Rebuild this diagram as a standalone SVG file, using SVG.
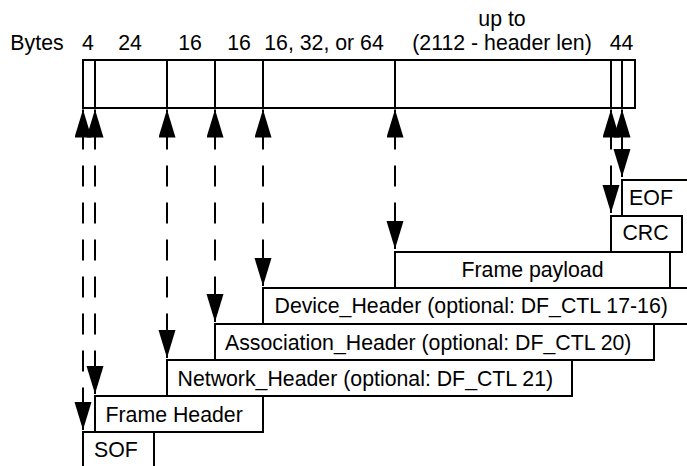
<svg xmlns="http://www.w3.org/2000/svg" width="687" height="466" viewBox="0 0 687 466">
  <style>
    text { font-family: "Liberation Sans", Arial, Helvetica, sans-serif; font-size: 21.3px; fill: #000; }
    .mid { text-anchor: middle; }
    .box { fill: none; stroke: #000; stroke-width: 2; }
    .conn { fill: none; stroke: #000; stroke-width: 2; stroke-dasharray: 21 16; stroke-dashoffset: 18;
            marker-start: url(#ah); marker-end: url(#ah); }
  </style>
  <defs>
    <marker id="ah" markerUnits="userSpaceOnUse" viewBox="0 0 30 20" markerWidth="30" markerHeight="20"
            refX="28" refY="8.5" orient="auto-start-reverse">
      <path d="M0,0 L28,8.5 L0,17 Z" fill="#000"/>
    </marker>
  </defs>

  <rect width="687" height="466" fill="#fff"/>

  <!-- byte counts above the frame -->
  <g id="byte-labels">
    <text x="37" y="50" class="mid">Bytes</text>
    <text x="88" y="50" class="mid">4</text>
    <text x="130" y="50" class="mid">24</text>
    <text x="190" y="50" class="mid">16</text>
    <text x="239" y="50" class="mid">16</text>
    <text x="324" y="50" class="mid">16, 32, or 64</text>
    <text x="502" y="26" class="mid">up to</text>
    <text x="502" y="50" class="mid">(2112 - header len)</text>
    <text x="621.5" y="50" class="mid">44</text>
  </g>

  <!-- the frame bar with its field dividers -->
  <g id="frame-bar">
    <rect class="box" x="83" y="60" width="552" height="48"/>
    <path class="box" d="M95,60V108 M167,60V108 M215,60V108 M263,60V108 M395,60V108 M611,60V108 M622,60V108"/>
  </g>

  <!-- dashed double-headed connectors from each field to its block -->
  <g id="connectors">
    <line class="conn" x1="83" y1="109.5" x2="83" y2="430"/>
    <line class="conn" x1="95" y1="109.5" x2="95" y2="394"/>
    <line class="conn" x1="167" y1="109.5" x2="167" y2="358"/>
    <line class="conn" x1="215" y1="109.5" x2="215" y2="322"/>
    <line class="conn" x1="263" y1="109.5" x2="263" y2="286"/>
    <line class="conn" x1="395" y1="109.5" x2="395" y2="249"/>
    <line class="conn" x1="611" y1="109.5" x2="611" y2="213"/>
    <line class="conn" x1="622" y1="109.5" x2="622" y2="177"/>
  </g>

  <!-- stacked blocks -->
  <g id="eof">
    <path class="box" d="M622,216V180H690"/>
    <text x="651" y="205" class="mid">EOF</text>
  </g>
  <g id="crc">
    <rect class="box" x="611" y="216" width="71" height="36"/>
    <text x="645.5" y="240" class="mid">CRC</text>
  </g>
  <g id="frame-payload">
    <rect class="box" x="395" y="252" width="275" height="36"/>
    <text x="532.5" y="277" class="mid">Frame payload</text>
  </g>
  <g id="device-header">
    <path class="box" d="M690,288H263V324H690"/>
    <text x="274.5" y="313">Device_Header (optional: DF_CTL 17-16)</text>
  </g>
  <g id="association-header">
    <rect class="box" x="215" y="324" width="439" height="36"/>
    <text x="225" y="350">Association_Header (optional: DF_CTL 20)</text>
  </g>
  <g id="network-header">
    <rect class="box" x="167" y="360" width="405" height="36"/>
    <text x="177.5" y="385.5">Network_Header (optional: DF_CTL 21)</text>
  </g>
  <g id="frame-header">
    <rect class="box" x="95" y="396" width="168" height="36"/>
    <text x="105.5" y="422">Frame Header</text>
  </g>
  <g id="sof">
    <path class="box" d="M83,470V432H154V470"/>
    <text x="94" y="457">SOF</text>
  </g>
</svg>
